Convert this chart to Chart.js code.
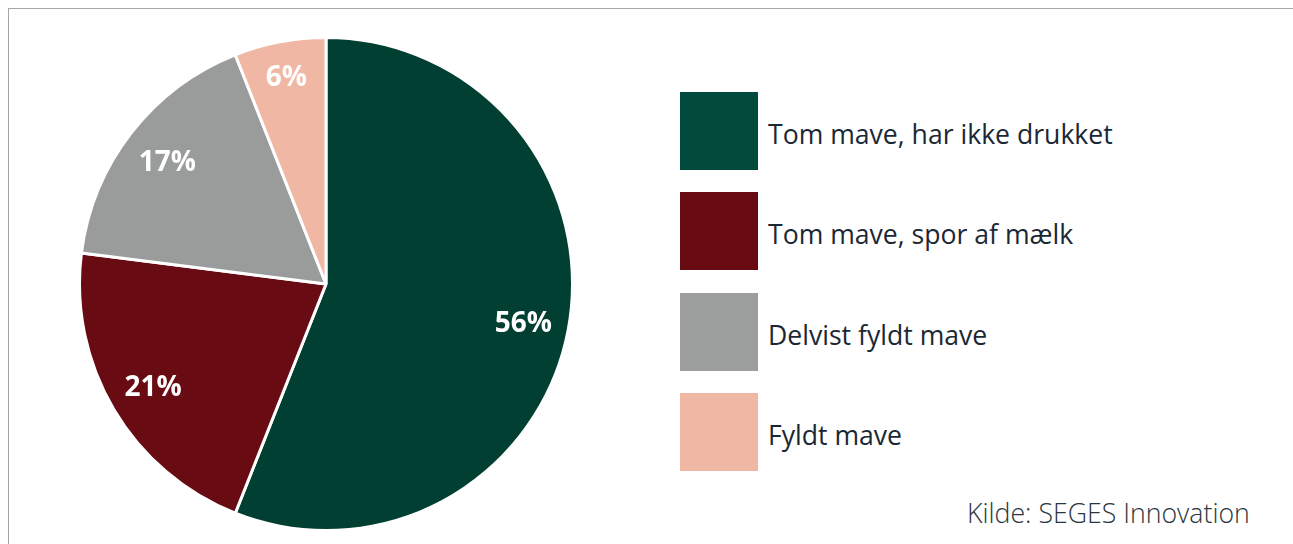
<!DOCTYPE html>
<html>
<head>
<meta charset="utf-8">
<script src="https://cdn.jsdelivr.net/npm/chart.js@4"></script>
<style>
  html, body { margin: 0; padding: 0; background: #fff; }
  body { width: 1293px; height: 544px; position: relative; overflow: hidden; font-family: "Open Sans", sans-serif; }
  #frame { position: absolute; left: 8px; top: 8px; right: 0; bottom: 0; border-top: 1.5px solid #a6a6a6; border-left: 1.5px solid #a6a6a6; }
  #pieWrap { position: absolute; left: 78px; top: 36px; width: 496px; height: 496px; }
  #legend { position: absolute; left: 680px; top: 92px; }
  .item { display: flex; align-items: center; height: 78px; margin-bottom: 22.3px; }
  .box { width: 78px; height: 78px; flex: none; }
  .txt { margin-left: 10px; padding-top: 6px; font-size: 26.6px; color: #1b2834; white-space: nowrap; }
  #source { position: absolute; left: 967px; top: 494px; font-size: 26.7px; font-weight: 300; color: #2b3640; white-space: nowrap; }
</style>
</head>
<body>
<div id="frame"></div>
<div id="pieWrap"><canvas id="pieChart"></canvas></div>
<div id="legend"></div>
<div id="source">Kilde: SEGES Innovation</div>
<script>
const categories = ['Tom mave, har ikke drukket', 'Tom mave, spor af mælk', 'Delvist fyldt mave', 'Fyldt mave'];
const shares = [56, 21, 17, 6];
const sliceColors = ['#003f31', '#680b12', '#9a9c9c', '#f0b7a5'];
const legendColors = ['#024b3c', '#680b12', '#9d9e9e', '#f0b7a5'];

// legend
const legend = document.getElementById('legend');
categories.forEach((c, i) => {
  const item = document.createElement('div');
  item.className = 'item';
  const box = document.createElement('div');
  box.className = 'box';
  box.style.background = legendColors[i];
  const txt = document.createElement('div');
  txt.className = 'txt';
  txt.textContent = c;
  item.appendChild(box);
  item.appendChild(txt);
  legend.appendChild(item);
});

// percent labels inside the slices
const sliceLabels = {
  id: 'sliceLabels',
  afterDatasetsDraw(chart) {
    const ctx = chart.ctx;
    const meta = chart.getDatasetMeta(0);
    ctx.save();
    ctx.fillStyle = '#ffffff';
    ctx.font = 'bold 28px "Open Sans"';
    ctx.textAlign = 'center';
    ctx.textBaseline = 'middle';
    meta.data.forEach((arc, i) => {
      const p = arc.getProps(['x', 'y', 'startAngle', 'endAngle', 'outerRadius'], true);
      const mid = (p.startAngle + p.endAngle) / 2;
      const r = p.outerRadius * (shares[i] < 10 ? 0.86 : 0.815);
      ctx.fillText(shares[i] + '%', p.x + Math.cos(mid) * r, p.y + Math.sin(mid) * r + 2);
    });
    ctx.restore();
  }
};

new Chart(document.getElementById('pieChart').getContext('2d'), {
  type: 'pie',
  data: {
    labels: categories,
    datasets: [{
      data: shares,
      backgroundColor: sliceColors,
      borderColor: '#ffffff',
      borderWidth: 3
    }]
  },
  options: {
    responsive: true,
    maintainAspectRatio: false,
    animation: false,
    layout: { padding: 0 },
    plugins: {
      legend: { display: false },
      tooltip: { enabled: false }
    }
  },
  plugins: [sliceLabels]
});
</script>
</body>
</html>
